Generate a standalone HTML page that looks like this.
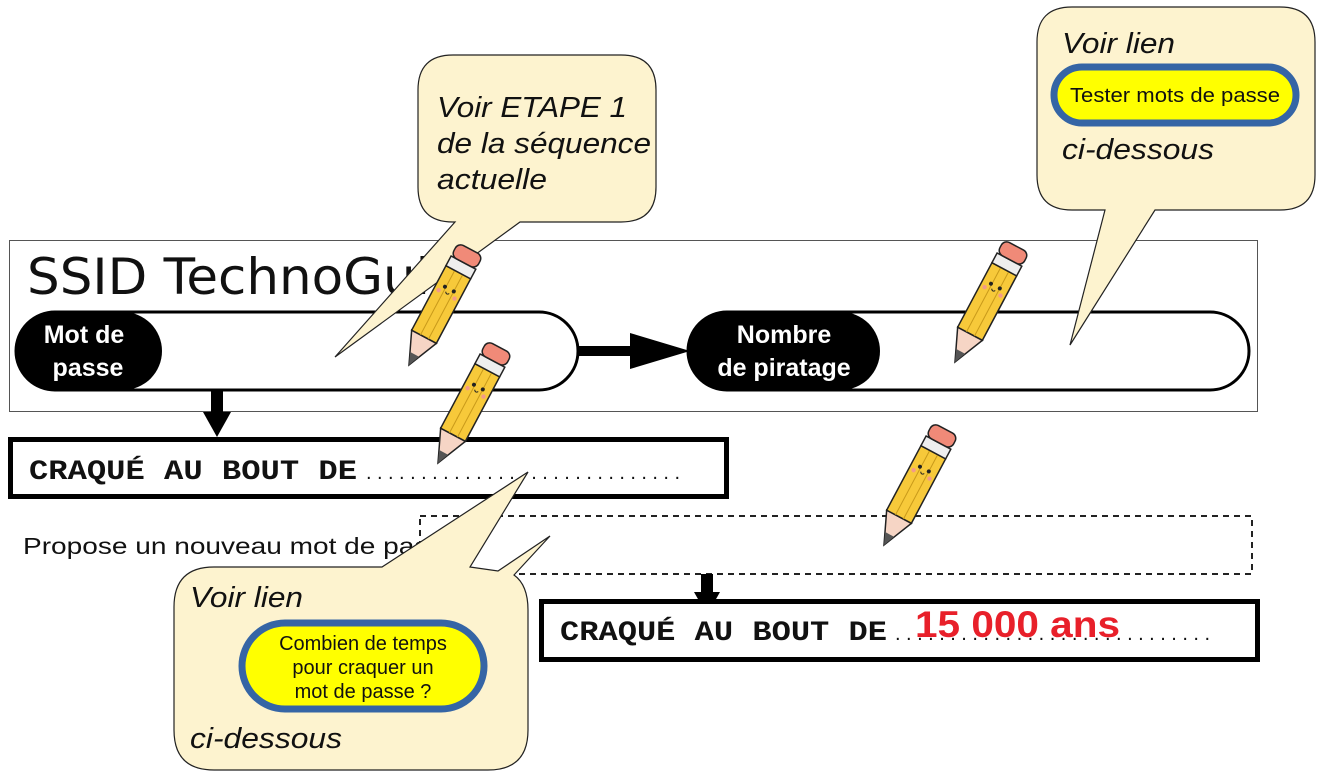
<!DOCTYPE html>
<html><head><meta charset="utf-8"><style>
body{margin:0;background:#fff;}
svg{display:block;}
.s{font-family:"Liberation Sans",sans-serif;}
.c{font-family:"Liberation Mono","DejaVu Sans Mono",monospace;font-weight:bold;}
</style></head><body>
<svg width="1330" height="782" viewBox="0 0 1330 782" xmlns="http://www.w3.org/2000/svg">
<defs>
<g id="pencil">
  <path d="M0,0 L-14,-32 L14,-32 Z" fill="#f6d5c5" stroke="#222" stroke-width="1.5"/>
  <path d="M0,0 L-5,-12 L5,-12 Z" fill="#555"/>
  <rect x="-14" y="-105" width="28" height="73" fill="#f7c93a" stroke="#222" stroke-width="1.5"/>
  <line x1="-4" y1="-105" x2="-4" y2="-32" stroke="#c99a1a" stroke-width="1"/>
  <line x1="5" y1="-105" x2="5" y2="-32" stroke="#c99a1a" stroke-width="1"/>
  <rect x="-14" y="-116" width="28" height="11" fill="#eee" stroke="#222" stroke-width="1.5"/>
  <rect x="-14" y="-131" width="28" height="15" rx="6" fill="#f08a78" stroke="#222" stroke-width="1.5"/>
  <circle cx="-5" cy="-86" r="2" fill="#222"/><circle cx="5" cy="-86" r="2" fill="#222"/>
  <circle cx="-9" cy="-80" r="2.2" fill="#f29a8a"/><circle cx="9" cy="-80" r="2.2" fill="#f29a8a"/>
  <path d="M-2,-82 Q0,-79 2,-82" fill="none" stroke="#222" stroke-width="1"/>
</g>
</defs>

<rect x="9.5" y="240.5" width="1248" height="171" fill="#fff" stroke="#555" stroke-width="1"/>
<text x="27" y="294" font-family="DejaVu Sans, sans-serif" font-size="50" fill="#111" textLength="403" lengthAdjust="spacingAndGlyphs">SSID TechnoGui</text>

<rect x="16" y="312" width="562" height="78" rx="39" fill="#fff" stroke="#000" stroke-width="3"/>
<rect x="16" y="312" width="146" height="78" rx="39" fill="#000"/>
<text class="s" x="84" y="343" font-size="25" font-weight="bold" fill="#fff" text-anchor="middle">Mot de</text>
<text class="s" x="88" y="376" font-size="25" font-weight="bold" fill="#fff" text-anchor="middle">passe</text>

<rect x="578" y="346" width="55" height="10" fill="#000"/>
<path d="M630,333 L690,351 L630,369 Z" fill="#000"/>

<rect x="688" y="312" width="561" height="78" rx="39" fill="#fff" stroke="#000" stroke-width="3"/>
<rect x="688" y="312" width="192" height="78" rx="39" fill="#000"/>
<text class="s" x="784" y="343" font-size="25" font-weight="bold" fill="#fff" text-anchor="middle">Nombre</text>
<text class="s" x="784" y="376" font-size="25" font-weight="bold" fill="#fff" text-anchor="middle">de piratage</text>

<rect x="211" y="391" width="12" height="22" fill="#000"/>
<path d="M203,412 L231,412 L217,437 Z" fill="#000"/>

<rect x="10.5" y="439.5" width="716" height="57" fill="#fff" stroke="#000" stroke-width="5"/>
<text class="c" x="29" y="479" font-size="28" fill="#111" textLength="328" lengthAdjust="spacingAndGlyphs">CRAQUÉ AU BOUT DE</text>
<text class="s" x="366" y="479" font-size="20" fill="#111" textLength="314" lengthAdjust="spacing">.............................</text>

<text class="s" x="23" y="554" font-size="23" fill="#111" textLength="435" lengthAdjust="spacingAndGlyphs">Propose un nouveau mot de passe</text>
<rect x="420" y="516" width="832" height="58" fill="none" stroke="#222" stroke-width="2" stroke-dasharray="6,5"/>

<rect x="701" y="574" width="12" height="20" fill="#000"/>
<path d="M694,592 L720,592 L707,615 Z" fill="#000"/>

<rect x="541.5" y="601.5" width="716" height="58" fill="#fff" stroke="#000" stroke-width="5"/>
<text class="c" x="560" y="640" font-size="28" fill="#111" textLength="327" lengthAdjust="spacingAndGlyphs">CRAQUÉ AU BOUT DE</text>
<text class="s" x="895" y="640" font-size="20" fill="#111" textLength="315" lengthAdjust="spacing">.............................</text>
<text class="s" x="915" y="637" font-size="37" font-weight="bold" fill="#e8202a" textLength="205" lengthAdjust="spacingAndGlyphs">15 000 ans</text>

<path d="M453,55 L621,55 Q656,55 656,90 L656,187 Q656,222 621,222 L520,222 L335,357 L455,222 L453,222 Q418,222 418,187 L418,90 Q418,55 453,55 Z" fill="#fdf3cf" stroke="#222" stroke-width="1.2"/>
<text class="s" x="437" y="117" font-size="29" font-style="italic" fill="#111" textLength="190" lengthAdjust="spacingAndGlyphs">Voir ETAPE 1</text>
<text class="s" x="437" y="153" font-size="29" font-style="italic" fill="#111" textLength="214" lengthAdjust="spacingAndGlyphs">de la séquence</text>
<text class="s" x="437" y="189" font-size="29" font-style="italic" fill="#111" textLength="110" lengthAdjust="spacingAndGlyphs">actuelle</text>

<path d="M1072,7 L1280,7 Q1315,7 1315,42 L1315,175 Q1315,210 1280,210 L1155,210 L1070,345 L1105,210 L1072,210 Q1037,210 1037,175 L1037,42 Q1037,7 1072,7 Z" fill="#fdf3cf" stroke="#222" stroke-width="1.2"/>
<text class="s" x="1062" y="53" font-size="29" font-style="italic" fill="#111" textLength="113" lengthAdjust="spacingAndGlyphs">Voir lien</text>
<rect x="1054" y="67" width="242" height="56" rx="28" fill="#ffff00" stroke="#3565a5" stroke-width="7"/>
<text class="s" x="1175" y="102" font-size="20" fill="#111" text-anchor="middle" textLength="210" lengthAdjust="spacingAndGlyphs">Tester mots de passe</text>
<text class="s" x="1062" y="159" font-size="29" font-style="italic" fill="#111" textLength="152" lengthAdjust="spacingAndGlyphs">ci-dessous</text>

<path d="M214,567 L382,567 L528,472 L470,567 L498,571 L550,536 L514,575 Q528,585 528,610 L528,730 Q528,770 488,770 L214,770 Q174,770 174,730 L174,607 Q174,567 214,567 Z" fill="#fdf3cf" stroke="#222" stroke-width="1.2"/>
<text class="s" x="190" y="607" font-size="29" font-style="italic" fill="#111" textLength="113" lengthAdjust="spacingAndGlyphs">Voir lien</text>
<rect x="242" y="623" width="242" height="86" rx="43" fill="#ffff00" stroke="#3565a5" stroke-width="7"/>
<text class="s" x="363" y="650" font-size="20" fill="#111" text-anchor="middle">Combien de temps</text>
<text class="s" x="363" y="674" font-size="20" fill="#111" text-anchor="middle">pour craquer un</text>
<text class="s" x="363" y="698" font-size="20" fill="#111" text-anchor="middle">mot de passe ?</text>
<text class="s" x="190" y="748" font-size="29" font-style="italic" fill="#111" textLength="152" lengthAdjust="spacingAndGlyphs">ci-dessous</text>

<use href="#pencil" transform="translate(409,365) rotate(28)"/>
<use href="#pencil" transform="translate(438,463) rotate(28)"/>
<use href="#pencil" transform="translate(955,362) rotate(28)"/>
<use href="#pencil" transform="translate(884,545) rotate(28)"/>
</svg>
</body></html>
